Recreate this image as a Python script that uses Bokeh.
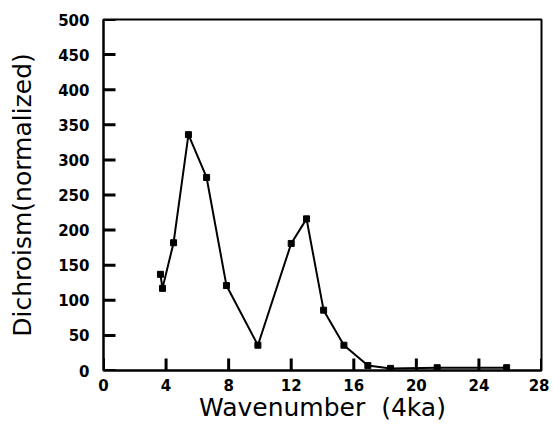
from bokeh.plotting import figure
from bokeh.models import Range1d, FixedTicker
from bokeh.embed import file_html
from bokeh.resources import INLINE

# Data
wavenumber = [3.64, 3.77, 4.48, 5.43, 6.59, 7.86, 9.87, 12.0, 12.98, 14.07, 15.37, 16.9, 18.35, 21.33, 25.77]
dichroism = [137, 117, 182, 336, 275, 121, 36, 181, 216, 86, 36, 7, 3, 4, 4]

x_ticks = [0, 4, 8, 12, 16, 20, 24, 28]
y_ticks = [0, 50, 100, 150, 200, 250, 300, 350, 400, 450, 500]

TICK_PX = 12

p = figure(width=549, height=424, output_backend="svg", toolbar_location=None,
           x_range=Range1d(0, 28), y_range=Range1d(0, 500),
           min_border_left=103, min_border_right=8, min_border_top=19, min_border_bottom=0)

# inward tick marks drawn as screen-length rays from the frame edges
p.ray(x=[0] * len(y_ticks), y=y_ticks, length=TICK_PX, length_units="screen", angle=0,
      line_color="black", line_width=3)
p.ray(x=x_ticks, y=[0] * len(x_ticks), length=TICK_PX, length_units="screen", angle=90,
      angle_units="deg", line_color="black", line_width=3)

p.line(wavenumber, dichroism, line_color="black", line_width=2)
p.scatter(wavenumber, dichroism, marker="square", size=6, color="black")

p.grid.visible = False
p.outline_line_color = "black"
p.outline_line_width = 2

for ax in (p.xaxis[0], p.yaxis[0]):
    ax.axis_line_color = "black"
    ax.axis_line_width = 2
    ax.major_tick_in = 0
    ax.major_tick_out = 0
    ax.minor_tick_line_color = None
    ax.major_label_text_font = "DejaVu Sans"
    ax.major_label_text_font_style = "bold"
    ax.major_label_text_font_size = "15px"
    ax.major_label_text_color = "black"
    ax.axis_label_text_font = "DejaVu Sans"
    ax.axis_label_text_font_style = "normal"
    ax.axis_label_text_font_size = "25px"
    ax.axis_label_text_color = "black"

p.xaxis.ticker = FixedTicker(ticks=x_ticks)
p.yaxis.ticker = FixedTicker(ticks=y_ticks)
p.xaxis.axis_label = "Wavenumber\u00a0\u00a0(4ka)"
p.yaxis.axis_label = "Dichroism(normalized)"
p.xaxis.major_label_standoff = 8
p.yaxis.major_label_standoff = 14
p.xaxis.axis_label_standoff = -1
p.yaxis.axis_label_standoff = 18

open("out.html", "w").write(file_html(p, INLINE))
